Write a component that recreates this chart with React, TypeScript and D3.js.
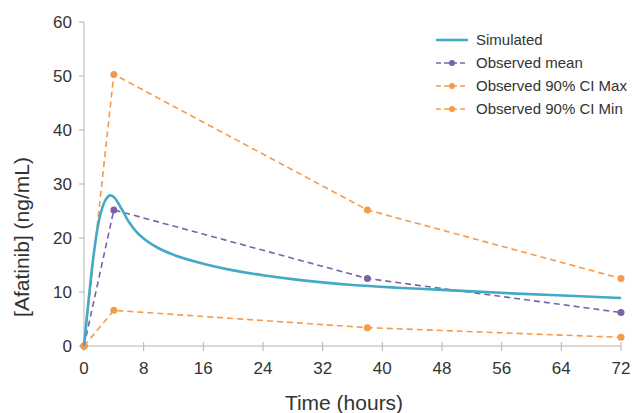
import React from "react";
import * as d3 from "d3";

const simTime = [0, 0.5, 1, 1.5, 2, 2.5, 3, 3.5, 4, 5, 6, 7, 8, 10, 12, 15, 20, 24, 29, 36, 42, 48, 58, 65, 72];
const simConc = [0, 7, 13.5, 19, 23.2, 25.8, 27.3, 27.9, 27.6, 25.5, 23.0, 21.2, 19.9, 18.1, 16.9, 15.6, 14.0, 13.1, 12.2, 11.3, 10.8, 10.4, 9.7, 9.3, 8.9];

const obsTime = [0, 4, 38, 72];
const obsMean = [0, 25.2, 12.5, 6.2];
const obsMax = [0, 50.3, 25.2, 12.5];
const obsMin = [0, 6.6, 3.4, 1.6];

const xTicks = [0, 8, 16, 24, 32, 40, 48, 56, 64, 72];
const yTicks = [0, 10, 20, 30, 40, 50, 60];

const legendLabels = ["Simulated", "Observed mean", "Observed 90% CI Max", "Observed 90% CI Min"];

const W = 635;
const H = 413;
const x = d3.scaleLinear().domain([0, 72]).range([84, 621]);
const y = d3.scaleLinear().domain([0, 60]).range([346, 22]);

const TEAL = "#42a9c6";
const PURPLE = "#7b62a6";
const ORANGE = "#f59a4a";
const AXIS = "#b3b3b3";
const TEXT = "#333333";
const FONT = "'Liberation Sans', Arial, Helvetica, sans-serif";

export default function App() {
  const simLine = d3
    .line<number>()
    .x((_, i) => x(simTime[i]))
    .y((d) => y(d))
    .curve(d3.curveMonotoneX);
  const obsLine = d3
    .line<number>()
    .x((_, i) => x(obsTime[i]))
    .y((d) => y(d));

  const observed = [
    { vals: obsMean, color: PURPLE },
    { vals: obsMax, color: ORANGE },
    { vals: obsMin, color: ORANGE },
  ];

  const legendColors = [TEAL, PURPLE, ORANGE, ORANGE];

  return (
    <svg width={W} height={H} style={{ position: "absolute", left: 0, top: 0 }} fontFamily={FONT}>
      <rect width={W} height={H} fill="#fff" />
      {/* axes */}
      <line x1={x(0)} x2={x(0)} y1={y(60)} y2={y(0)} stroke={AXIS} strokeWidth={1} />
      <line x1={x(0)} x2={x(72)} y1={y(0)} y2={y(0)} stroke={AXIS} strokeWidth={1} />
      {yTicks.map((t) => (
        <g key={"y" + t}>
          <line x1={x(0) - 5} x2={x(0)} y1={y(t)} y2={y(t)} stroke={AXIS} />
          <text x={72} y={y(t)} dy="0.35em" textAnchor="end" fontSize={17} fill={TEXT}>
            {t}
          </text>
        </g>
      ))}
      {xTicks.map((t) => (
        <g key={"x" + t}>
          <line x1={x(t)} x2={x(t)} y1={y(0) - 4} y2={y(0) + 5} stroke={AXIS} />
          <text x={x(t)} y={368.5} dy="0.35em" textAnchor="middle" fontSize={17} fill={TEXT}>
            {t}
          </text>
        </g>
      ))}
      <text x={344} y={403} dy="0.35em" textAnchor="middle" fontSize={21} fill={TEXT}>
        Time (hours)
      </text>
      <text
        transform={`translate(22,237) rotate(-90)`}
        dy="0.35em"
        textAnchor="middle"
        fontSize={21}
        fill={TEXT}
      >
        [Afatinib] (ng/mL)
      </text>

      {/* observed series */}
      {observed.map((s, k) => (
        <g key={"o" + k}>
          <path d={obsLine(s.vals) || ""} fill="none" stroke={s.color} strokeWidth={1.6} strokeDasharray="6,4" />
          {s.vals.map((v, i) => (
            <circle key={i} cx={x(obsTime[i])} cy={y(v)} r={3.5} fill={s.color} />
          ))}
        </g>
      ))}
      {/* simulated */}
      <path d={simLine(simConc) || ""} fill="none" stroke={TEAL} strokeWidth={2.6} />

      {/* legend */}
      {legendLabels.map((lab, i) => {
        const ly = 40 + i * 23;
        return (
          <g key={lab}>
            {i === 0 ? (
              <line x1={436} x2={468} y1={ly} y2={ly} stroke={TEAL} strokeWidth={2.6} />
            ) : (
              <g>
                <line x1={436} x2={468} y1={ly} y2={ly} stroke={legendColors[i]} strokeWidth={1.6} strokeDasharray="5,3" />
                <circle cx={452} cy={ly} r={3} fill={legendColors[i]} />
              </g>
            )}
            <text x={476} y={ly} dy="0.35em" fontSize={15} fill={TEXT}>
              {lab}
            </text>
          </g>
        );
      })}
    </svg>
  );
}
